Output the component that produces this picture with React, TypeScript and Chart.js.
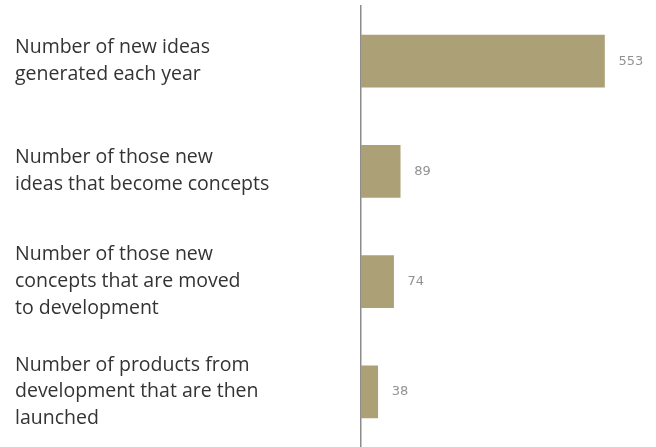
import React, { useEffect, useRef } from "react";
import { Chart, registerables } from "chart.js";

Chart.register(...registerables);

const categories: string[][] = [
  ["Number of new ideas", "generated each year"],
  ["Number of those new", "ideas that become concepts"],
  ["Number of those new", "concepts that are moved", "to development"],
  ["Number of products from", "development that are then", "launched"],
];
const values: number[] = [553, 89, 74, 38];

const BAR_COLOR = "#aca077";
const LABEL_COLOR = "#333333";
const VALUE_COLOR = "#929292";

const valueLabels = {
  id: "valueLabels",
  afterDatasetsDraw(chart: any) {
    const ctx = chart.ctx;
    const meta = chart.getDatasetMeta(0);
    ctx.save();
    ctx.font = "13px 'DejaVu Sans'";
    ctx.fillStyle = VALUE_COLOR;
    ctx.textAlign = "left";
    ctx.textBaseline = "middle";
    meta.data.forEach((el: any, i: number) => {
      ctx.fillText(String(values[i]), el.x + 14, el.y);
    });
    ctx.restore();
  },
};

export default function App() {
  const ref = useRef<HTMLCanvasElement | null>(null);
  useEffect(() => {
    document.body.style.margin = "0";
    const chart = new Chart(ref.current as HTMLCanvasElement, {
      type: "bar",
      data: {
        labels: categories,
        datasets: [
          {
            data: values,
            backgroundColor: BAR_COLOR,
            barThickness: 52,
          },
        ],
      },
      options: {
        indexAxis: "y",
        animation: false,
        responsive: false,
        maintainAspectRatio: false,
        layout: { padding: { left: 15, top: 6, right: 0, bottom: 0 } },
        plugins: { legend: { display: false }, tooltip: { enabled: false } },
        scales: {
          x: { display: false, min: 0, max: 670 },
          y: {
            afterFit(scale: any) {
              scale.width = 346;
              scale.paddingTop = 0;
              scale.paddingBottom = 0;
            },
            grid: { display: true, drawOnChartArea: false, drawTicks: false },
            border: { display: true, color: "#8c8c8c", width: 1.5 },
            ticks: {
              crossAlign: "far",
              padding: 0,
              color: LABEL_COLOR,
              font: { family: "'Open Sans'", size: 19.5, lineHeight: 1.38 },
            },
          },
        },
      },
      plugins: [valueLabels],
    });
    return () => chart.destroy();
  }, []);
  return <canvas ref={ref} width={656} height={447} />;
}
